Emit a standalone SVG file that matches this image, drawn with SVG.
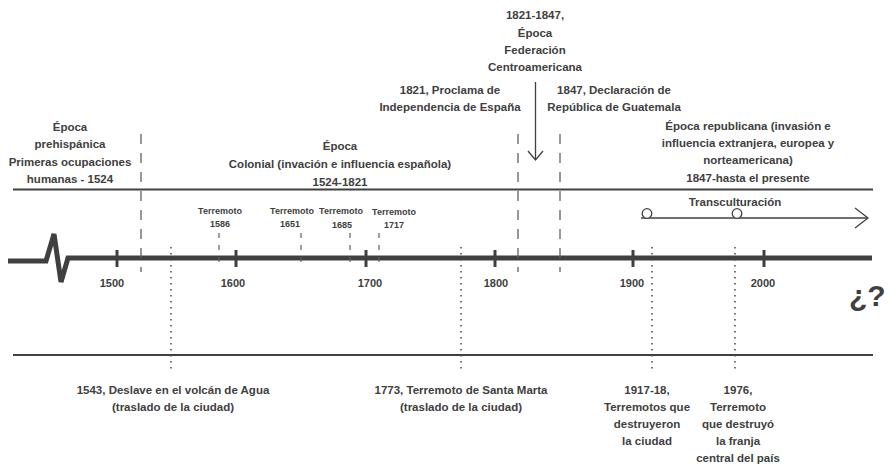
<svg xmlns="http://www.w3.org/2000/svg" width="889" height="465" viewBox="0 0 889 465">
<defs>
<style>
text{font-family:"Liberation Sans",Arial,sans-serif;font-weight:bold;fill:#404040;text-anchor:middle}
.t{font-size:11.5px}
.s{font-size:9px}
.y{font-size:11px}
.q{font-size:30px;text-anchor:start}
.axis{stroke:#404040;fill:none}
.dash{stroke:#606060;stroke-width:1.3;stroke-dasharray:10 9;fill:none}
.sdash{stroke:#606060;stroke-width:1.2;stroke-dasharray:5 7;fill:none}
.dot{stroke:#505050;stroke-width:1.6;stroke-dasharray:1.5 4.5;fill:none}
.tick{stroke:#404040;stroke-width:3}
.thin{stroke:#404040;stroke-width:1.3;fill:none}
</style>
</defs>
<rect width="889" height="465" fill="#ffffff"/>
<g id="connectors">
<line class="axis" x1="13" y1="189.5" x2="873" y2="189.5" stroke-width="2.2"/>
<line class="axis" x1="13" y1="355" x2="873" y2="355" stroke-width="2.2"/>
<polyline class="axis" stroke-width="5" stroke-linejoin="miter" points="8,261 46,261 54,234 61,282 68,258 872,258"/>
<line class="tick" x1="117" y1="250" x2="117" y2="267"/>
<line class="tick" x1="236" y1="250" x2="236" y2="267"/>
<line class="tick" x1="366" y1="250" x2="366" y2="267"/>
<line class="tick" x1="495" y1="250" x2="495" y2="267"/>
<line class="tick" x1="633" y1="250" x2="633" y2="267"/>
<line class="tick" x1="764" y1="250" x2="764" y2="267"/>
<line class="dash" x1="141" y1="134" x2="141" y2="272"/>
<line class="dash" x1="518" y1="134" x2="518" y2="272"/>
<line class="dash" x1="560" y1="134" x2="560" y2="272"/>
<line class="sdash" x1="219" y1="233" x2="219" y2="268"/>
<line class="sdash" x1="301" y1="233" x2="301" y2="268"/>
<line class="sdash" x1="350" y1="233" x2="350" y2="268"/>
<line class="sdash" x1="379" y1="233" x2="379" y2="268"/>
<line class="dot" x1="171" y1="247" x2="171" y2="370"/>
<line class="dot" x1="461" y1="247" x2="461" y2="370"/>
<line class="dot" x1="652" y1="247" x2="652" y2="370"/>
<line class="dot" x1="735" y1="247" x2="735" y2="370"/>
<line class="thin" x1="535.5" y1="82" x2="535.5" y2="160"/>
<polyline class="thin" points="528,151 535.5,160 543,151"/>
<line class="thin" x1="641" y1="218" x2="868" y2="218"/>
<polyline class="thin" points="855,208 868,218 855,228"/>
<circle cx="647" cy="213.5" r="4.8" fill="#ffffff" stroke="#404040" stroke-width="1.3"/>
<circle cx="737" cy="213.5" r="4.8" fill="#ffffff" stroke="#404040" stroke-width="1.3"/>
</g>
<g id="prehispanica">
<text class="t" x="70" y="131">Época</text>
<text class="t" x="70" y="148">prehispánica</text>
<text class="t" x="70" y="166">Primeras ocupaciones</text>
<text class="t" x="70" y="183">humanas - 1524</text>
</g>
<g id="colonial">
<text class="t" x="340" y="150">Época</text>
<text class="t" x="340" y="168">Colonial (invación e influencia española)</text>
<text class="t" x="340" y="186">1524-1821</text>
</g>
<g id="federacion">
<text class="t" x="535" y="19">1821-1847,</text>
<text class="t" x="535" y="37">Época</text>
<text class="t" x="535" y="54">Federación</text>
<text class="t" x="535" y="71">Centroamericana</text>
</g>
<g id="proclama">
<text class="t" x="450" y="94">1821, Proclama de</text>
<text class="t" x="450" y="111">Independencia de España</text>
</g>
<g id="declaracion">
<text class="t" x="614" y="94">1847, Declaración de</text>
<text class="t" x="614" y="111">República de Guatemala</text>
</g>
<g id="republicana">
<text class="t" x="748" y="130">Época republicana (invasión e</text>
<text class="t" x="748" y="147">influencia extranjera, europea y</text>
<text class="t" x="748" y="164">norteamericana)</text>
<text class="t" x="748" y="182">1847-hasta el presente</text>
</g>
<g id="transculturacion">
<text class="t" x="735" y="206">Transculturación</text>
</g>
<g id="terremoto1586">
<text class="s" x="220" y="214">Terremoto</text>
<text class="s" x="220" y="227">1586</text>
</g>
<g id="terremoto1651">
<text class="s" x="292" y="214">Terremoto</text>
<text class="s" x="290" y="227">1651</text>
</g>
<g id="terremoto1685">
<text class="s" x="341" y="214">Terremoto</text>
<text class="s" x="342" y="228">1685</text>
</g>
<g id="terremoto1717">
<text class="s" x="394" y="215">Terremoto</text>
<text class="s" x="394" y="228">1717</text>
</g>
<g id="years">
<text class="y" x="112" y="287">1500</text>
<text class="y" x="233" y="287">1600</text>
<text class="y" x="370" y="287">1700</text>
<text class="y" x="496" y="287">1800</text>
<text class="y" x="632" y="287">1900</text>
<text class="y" x="763" y="287">2000</text>
</g>
<g id="futuro">
<text class="q" x="849" y="306">¿?</text>
</g>
<g id="deslave1543">
<text class="t" x="173" y="394">1543, Deslave en el volcán de Agua</text>
<text class="t" x="173" y="411">(traslado de la ciudad)</text>
</g>
<g id="terremoto1773">
<text class="t" x="461" y="394">1773, Terremoto de Santa Marta</text>
<text class="t" x="461" y="411">(traslado de la ciudad)</text>
</g>
<g id="terremotos1917">
<text class="t" x="647" y="394">1917-18,</text>
<text class="t" x="647" y="411">Terremotos que</text>
<text class="t" x="647" y="428">destruyeron</text>
<text class="t" x="647" y="445">la ciudad</text>
</g>
<g id="terremoto1976">
<text class="t" x="738" y="394">1976,</text>
<text class="t" x="738" y="411">Terremoto</text>
<text class="t" x="738" y="428">que destruyó</text>
<text class="t" x="738" y="445">la franja</text>
<text class="t" x="738" y="462">central del país</text>
</g>
</svg>
